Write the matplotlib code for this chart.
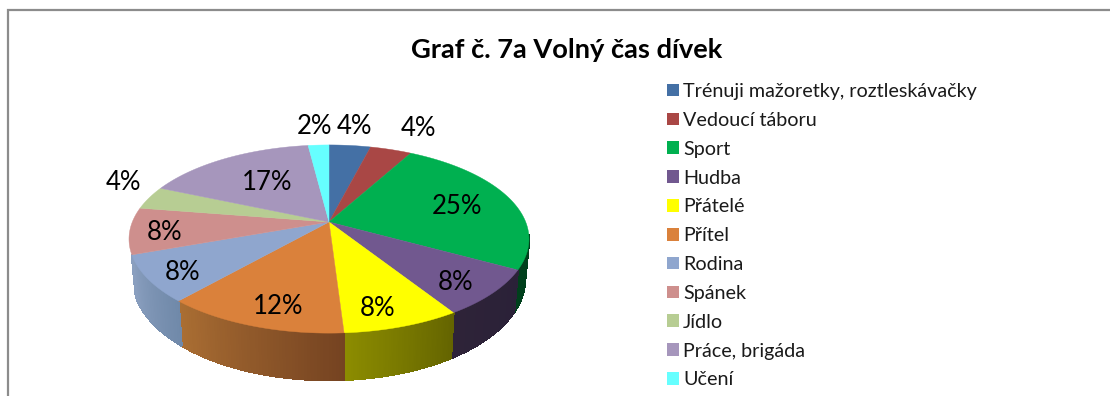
import numpy as np
import matplotlib
matplotlib.use("Agg")
import matplotlib.pyplot as plt
from matplotlib.patches import Patch, Polygon
from matplotlib.collections import PolyCollection
from matplotlib.colors import to_rgb

plt.rcParams['font.family'] = ['Lato', 'DejaVu Sans']

categories = ["Trénuji mažoretky, roztleskávačky", "Vedoucí táboru", "Sport", "Hudba",
              "Přátelé", "Přítel", "Rodina", "Spánek", "Jídlo", "Práce, brigáda", "Učení"]
values = [4, 4, 25, 8, 8, 12.5, 8, 8, 4, 16.5, 2]
value_labels = ["4%", "4%", "25%", "8%", "8%", "12%", "8%", "8%", "4%", "17%", "2%"]
top_colors = ["#4470A5", "#A94745", "#00B050", "#71588F", "#FFFF00", "#DA813B",
              "#8FA6CE", "#CE8F8D", "#B7CD93", "#A696BC", "#66FFFF"]
title = "Graf č. 7a Volný čas dívek"

# wall shading: colour at the start and the end of each wedge's arc (clockwise)
wall_colors = {2: ("#00401C", "#00401C"), 3: ("#2A2138", "#2E2338"),
               4: ("#646400", "#8C8C00"), 5: ("#754321", "#AA6E33"),
               6: ("#7089A9", "#8A9FBF")}
# label anchors in picture pixels
label_xy = [(354, 127), (418, 129), (457, 207), (456, 283), (378, 308), (278, 307),
            (183, 273), (165, 233), (123, 183), (267, 183), (314, 127)]

W, H = 1110, 396
CX, CY, R, A, K = 329, 222, 196.7, 91.0, 0.181
DEPTH, SHRINK = 38.5, 0.98


def top(theta):
    u, v = np.sin(theta), np.cos(theta)
    d = 1 + K * v
    return CX + R * u / d, CY - A * v / d


def bottom(theta):
    u, v = np.sin(theta), np.cos(theta)
    d = 1 + K * v
    return CX + SHRINK * R * u / d, CY - A * v / d + DEPTH / d


fig = plt.figure(figsize=(W / 100, H / 100), dpi=100)
ax = fig.add_axes([0, 0, 1, 1])
ax.set_xlim(0, W)
ax.set_ylim(H, 0)
ax.axis("off")

# chart frame, cut off at right and bottom
ax.plot([7.5, 7.5, W], [H, 10, 10], color="#8C8C8C", lw=1.6, solid_joinstyle="miter")

edges = np.radians(np.concatenate([[0], np.cumsum(values)]) * 3.6)
vis_lo, vis_hi = np.radians(98), np.radians(262)

# side walls
for i, (c0, c1) in wall_colors.items():
    a0, a1 = max(edges[i], vis_lo), min(edges[i + 1], vis_hi)
    th = np.linspace(a0, a1, 60)
    tx, ty = top(th)
    bx, by = bottom(th)
    c0, c1 = np.array(to_rgb(c0)), np.array(to_rgb(c1))
    quads, cols = [], []
    for j in range(len(th) - 1):
        quads.append([(tx[j], ty[j]), (tx[j + 1], ty[j + 1]), (bx[j + 1], by[j + 1]), (bx[j], by[j])])
        cols.append(c0 + (c1 - c0) * j / (len(th) - 2))
    ax.add_collection(PolyCollection(quads, facecolors=cols, edgecolors=cols, linewidths=1.0,
                                     antialiaseds=False))

# top faces
for i in range(len(values)):
    th = np.linspace(edges[i], edges[i + 1], 80)
    x, y = top(th)
    pts = np.column_stack([np.r_[CX, x], np.r_[CY, y]])
    ax.add_patch(Polygon(pts, closed=True, facecolor=top_colors[i], edgecolor=top_colors[i], lw=0.3))

# percentage labels
for s, (lx, ly) in zip(value_labels, label_xy):
    ax.text(lx, ly, s, ha="center", va="center", fontsize=18.5, color="black")

ax.text(567, 50, title, ha="center", va="center", fontsize=19.6, fontweight="bold", color="black")

handles = [Patch(facecolor=c, edgecolor="none") for c in top_colors]
ax.legend(handles, categories, loc="upper left", bbox_to_anchor=(667 / W, 1 - 83 / H),
          frameon=False, fontsize=14.2, handlelength=0.62, handleheight=0.62,
          handletextpad=0.2, labelspacing=0.6, borderpad=0, borderaxespad=0, labelcolor="#1a1a1a")

fig.savefig("out.png", dpi=100)
